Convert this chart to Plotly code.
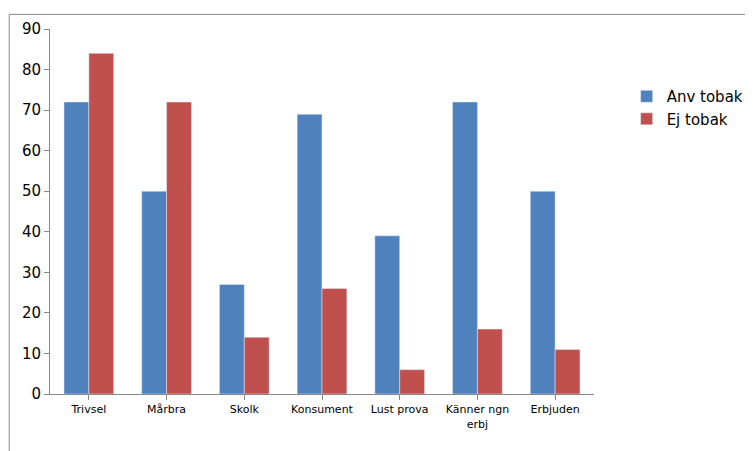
import plotly.graph_objects as go

categories = ["Trivsel", "Mårbra", "Skolk", "Konsument", "Lust prova", "Känner ngn<br>erbj", "Erbjuden"]
anv_tobak = [72, 50, 27, 69, 39, 72, 50]
ej_tobak = [84, 72, 14, 26, 6, 16, 11]

fig = go.Figure()
fig.add_bar(x=categories, y=anv_tobak, name="Anv tobak", marker_color="#4F81BD")
fig.add_bar(x=categories, y=ej_tobak, name="Ej tobak", marker_color="#C0504D")

fig.update_layout(
    width=753, height=451,
    paper_bgcolor="#FFFFFF", plot_bgcolor="#FFFFFF",
    font=dict(family="DejaVu Sans", size=11, color="#000000"),
    margin=dict(l=42, r=163, t=17, b=65),
    bargap=0.36, bargroupgap=0,
    legend=dict(x=1.06, y=0.86, xanchor="left", yanchor="top",
                font=dict(size=15), tracegroupgap=22, itemwidth=30),
    shapes=[dict(type="rect", xref="paper", yref="paper", x0=-0.075, x1=1.29, y0=-0.172, y1=1.04,
                 line=dict(color="#888888", width=1))],
)
fig.update_xaxes(showline=True, linecolor="#888888", ticks="outside", tickcolor="#888888",
                 tickfont=dict(size=11))
fig.update_yaxes(range=[0, 90], dtick=10, showgrid=False, showline=True, linecolor="#888888",
                 ticks="outside", tickcolor="#888888", tickfont=dict(size=15), zeroline=False)

fig.write_html("out.html")
